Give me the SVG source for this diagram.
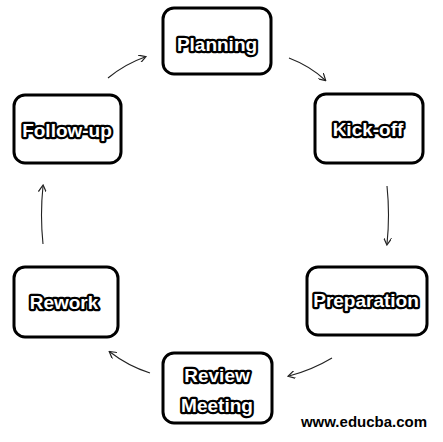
<svg xmlns="http://www.w3.org/2000/svg" width="443" height="442" viewBox="0 0 443 442">
<defs>
<marker id="ah" markerWidth="8" markerHeight="8" refX="6" refY="4" orient="auto" markerUnits="userSpaceOnUse">
<path d="M0,0 L7,4 L0,8" fill="none" stroke="#222" stroke-width="1.2"/>
</marker>
<style>
.box{fill:#fff;stroke:#000;stroke-width:3}
.lbl{font-family:"Liberation Sans",Arial,sans-serif;font-weight:bold;font-size:19px;fill:#fff;stroke:#000;stroke-width:4.5;stroke-linejoin:round;paint-order:stroke;text-anchor:middle;dominant-baseline:central}
.con{fill:none;stroke:#222;stroke-width:1.1;marker-end:url(#ah)}
.wm{font-family:"Liberation Sans",Arial,sans-serif;font-weight:bold;font-size:15px;fill:#000;text-anchor:middle}
</style>
</defs>
<rect width="443" height="442" fill="#fff"/>
<g id="connectors">
<path class="con" d="M289,58 Q310,66 325,80"/>
<path class="con" d="M387,186 Q390,215 387,244"/>
<path class="con" d="M332,358 Q312,370 289,376"/>
<path class="con" d="M150,373 Q128,366 110,352"/>
<path class="con" d="M43,244 Q40,215 43,186"/>
<path class="con" d="M108,78 Q125,64 145,57"/>
</g>
<g id="planning">
<rect class="box" x="163" y="8" width="108" height="66" rx="11"/>
<text class="lbl" x="217" y="44">Planning</text>
</g>
<g id="kickoff">
<rect class="box" x="315" y="94" width="108" height="69" rx="11"/>
<text class="lbl" x="368" y="129">Kick-off</text>
</g>
<g id="preparation">
<rect class="box" x="307" y="267" width="120" height="68" rx="11"/>
<text class="lbl" x="366" y="300">Preparation</text>
</g>
<g id="review">
<rect class="box" x="163" y="353" width="109" height="70" rx="11"/>
<text class="lbl" x="217" y="375">Review</text>
<text class="lbl" x="217" y="405">Meeting</text>
</g>
<g id="rework">
<rect class="box" x="14" y="267" width="104" height="70" rx="11"/>
<text class="lbl" x="64" y="302">Rework</text>
</g>
<g id="followup">
<rect class="box" x="14" y="95" width="107" height="68" rx="11"/>
<text class="lbl" x="67" y="130">Follow-up</text>
</g>
<text class="wm" x="364" y="427">www.educba.com</text>
</svg>
